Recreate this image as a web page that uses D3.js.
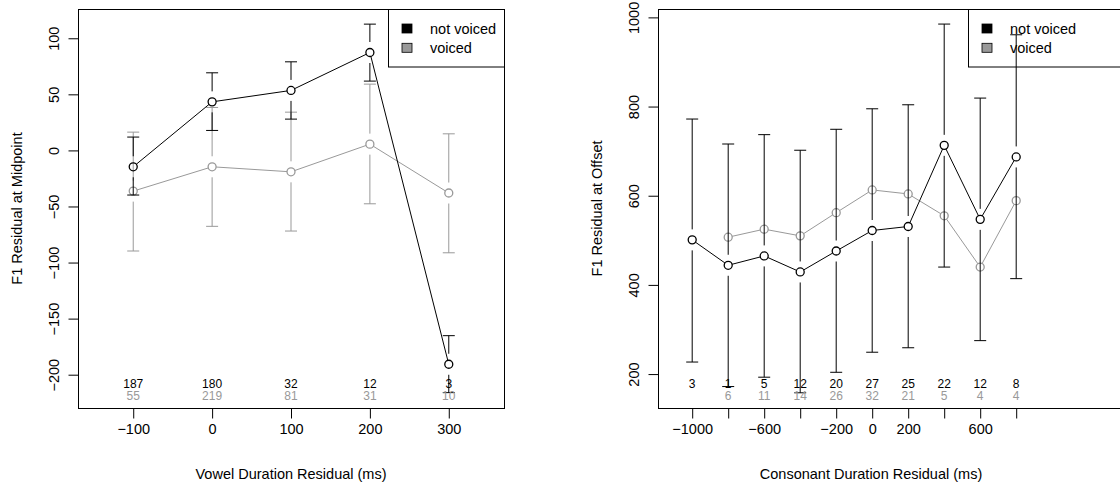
<!DOCTYPE html>
<html>
<head>
<meta charset="utf-8">
<script src="https://cdn.jsdelivr.net/npm/d3@7"></script>
<style>
  html, body { margin: 0; padding: 0; background: #fff; }
  svg { display: block; font-family: "Liberation Sans", Arial, Helvetica, sans-serif; }
</style>
</head>
<body>
<svg id="chart" width="1120" height="489"></svg>
<script>
// ---- F1 residual at vowel midpoint, by vowel duration residual ----
const vowelDur = [-100, 0, 100, 200, 300];
const midNotVoicedMean = [-14.6, 43.3, 53.5, 87.3, -190.7];
const midNotVoicedHi   = [11.9, 69.2, 79.0, 112.6, -165.2];
const midNotVoicedLo   = [-39.8, 17.8, 27.9, 61.8, -216.0];
const midVoicedMean    = [-36.3, -14.6, -19.1, 5.6, -38.0];
const midVoicedHi      = [16.3, 38.3, 34.1, 59.1, 14.8];
const midVoicedLo      = [-89.7, -67.7, -71.9, -47.6, -91.3];
const midNotVoicedN    = [187, 180, 32, 12, 3];
const midVoicedN       = [55, 219, 81, 31, 10];
const vowelTicks       = [-100, 0, 100, 200, 300];
const midYTicks        = [-200, -150, -100, -50, 0, 50, 100];

// ---- F1 residual at vowel offset, by consonant duration residual ----
const consDur = [-1000, -800, -600, -400, -200, 0, 200, 400, 600, 800];
const offNotVoicedMean = [501, 444, 465, 429, 476, 522, 531, 713, 547, 687];
const offNotVoicedHi   = [772, 716, 737, 702, 749, 795, 804, 985, 819, 961];
const offNotVoicedLo   = [227, 172, 193, 158, 204, 249, 259, 440, 275, 414];
const offVoicedMean    = [null, 507, 525, 510, 562, 613, 604, 555, 440, 589];
const offNotVoicedN    = [3, 1, 5, 12, 20, 27, 25, 22, 12, 8];
const offVoicedN       = [null, 6, 11, 14, 26, 32, 21, 5, 4, 4];
const consTicks        = [-1000, -800, -600, -400, -200, 0, 200, 400, 600, 800];
const consTickLabels   = [-1000, -600, -200, 0, 200, 600];
const offYTicks        = [200, 400, 600, 800, 1000];

const legendLabels = ["not voiced", "voiced"];

const BLACK = "#000000";
const GREY = "#999999";
const FONT = 14.5;
const plain = d3.format("");

const svg = d3.select("#chart");

function drawPanel(opt) {
  const g = svg.append("g");
  const x = d3.scaleLinear().domain(opt.xDomain).range([opt.left, opt.right]);
  const y = d3.scaleLinear().domain(opt.yDomain).range([opt.bottom, opt.top]);

  const clipId = opt.id + "-clip";
  g.append("clipPath").attr("id", clipId).append("rect")
    .attr("x", opt.left).attr("y", opt.top)
    .attr("width", opt.right - opt.left).attr("height", opt.bottom - opt.top);

  // x axis
  const xAxis = g.append("g")
    .attr("transform", `translate(0,${opt.bottom + 0.5})`)
    .call(d3.axisBottom(x).tickValues(opt.xTicks).tickSize(10).tickSizeOuter(0)
      .tickFormat(d => opt.xLabels.includes(d) ? plain(d) : ""));
  xAxis.select(".domain").remove();
  xAxis.selectAll(".tick line").attr("stroke", BLACK);
  xAxis.selectAll(".tick text").attr("font-size", FONT).attr("fill", BLACK)
    .attr("dy", null).attr("y", 25);

  // y axis, labels rotated parallel to the axis
  const yAxis = g.append("g")
    .attr("transform", `translate(${opt.left + 0.5},0)`)
    .call(d3.axisLeft(y).tickValues(opt.yTicks).tickSize(10).tickSizeOuter(0).tickFormat(plain));
  yAxis.select(".domain").remove();
  yAxis.selectAll(".tick line").attr("stroke", BLACK);
  yAxis.selectAll(".tick text")
    .attr("font-size", FONT).attr("fill", BLACK)
    .attr("x", null).attr("dy", null)
    .attr("text-anchor", "middle")
    .attr("transform", "translate(-20,0) rotate(-90)");
  svg.selectAll(".tick text").attr("font-family", null);

  // axis titles
  g.append("text")
    .attr("x", opt.titleX).attr("y", 479)
    .attr("text-anchor", "middle").attr("font-size", FONT)
    .text(opt.xTitle);
  g.append("text")
    .attr("transform", `translate(${opt.left - 56},${(opt.top + opt.bottom) / 2}) rotate(-90)`)
    .attr("text-anchor", "middle").attr("font-size", FONT)
    .text(opt.yTitle);

  // legend, drawn beneath the data
  const lg = g.append("g");
  lg.append("rect")
    .attr("x", opt.legendX + 0.5).attr("y", opt.top + 0.5)
    .attr("width", opt.right - opt.legendX).attr("height", 57.5)
    .attr("fill", "#fff").attr("stroke", BLACK);
  legendLabels.forEach((lab, i) => {
    lg.append("rect")
      .attr("x", opt.legendX + 14).attr("y", opt.top + 15 + i * 19.3)
      .attr("width", 10).attr("height", 9)
      .attr("fill", i === 0 ? BLACK : GREY).attr("stroke", BLACK).attr("stroke-width", 0.8);
    lg.append("text")
      .attr("x", opt.legendX + 42).attr("y", opt.top + 24.5 + i * 19.3)
      .attr("font-size", FONT).text(lab);
  });

  const data = g.append("g").attr("clip-path", `url(#${clipId})`);
  const R = 4;      // point radius
  const GAP = 10.5; // gap left around each point by the error bars
  const CAP = 6;    // half width of bar caps

  function series(xs, mean, lo, hi, colour, lw) {
    const pts = xs.map((xv, i) => ({ x: xv, m: mean[i], lo: lo ? lo[i] : null, hi: hi ? hi[i] : null }))
      .filter(d => d.m != null);
    // error bars
    if (lo && hi) {
      pts.forEach(d => {
        const px = x(d.x), pm = y(d.m), ph = y(d.hi), pl = y(d.lo);
        if (pm - GAP > ph) data.append("line").attr("x1", px).attr("x2", px)
          .attr("y1", pm - GAP).attr("y2", ph).attr("stroke", colour).attr("stroke-width", 1);
        if (pm + GAP < pl) data.append("line").attr("x1", px).attr("x2", px)
          .attr("y1", pm + GAP).attr("y2", pl).attr("stroke", colour).attr("stroke-width", 1);
        [ph, pl].forEach(py => data.append("line")
          .attr("x1", px - CAP).attr("x2", px + CAP).attr("y1", py).attr("y2", py)
          .attr("stroke", colour).attr("stroke-width", 1));
      });
    }
    // connecting segments stopping at the point circles
    for (let i = 0; i + 1 < pts.length; i++) {
      const x1 = x(pts[i].x), y1 = y(pts[i].m), x2 = x(pts[i + 1].x), y2 = y(pts[i + 1].m);
      const len = Math.hypot(x2 - x1, y2 - y1);
      if (len <= 2 * R) continue;
      const ux = (x2 - x1) / len, uy = (y2 - y1) / len;
      data.append("line")
        .attr("x1", x1 + ux * R).attr("y1", y1 + uy * R)
        .attr("x2", x2 - ux * R).attr("y2", y2 - uy * R)
        .attr("stroke", colour).attr("stroke-width", lw);
    }
    data.selectAll(null).data(pts).enter().append("circle")
      .attr("cx", d => x(d.x)).attr("cy", d => y(d.m)).attr("r", R)
      .attr("fill", "none").attr("stroke", colour).attr("stroke-width", 1.3);
  }

  series(opt.xs, opt.vMean, opt.vLo, opt.vHi, GREY, 1);
  series(opt.xs, opt.nMean, opt.nLo, opt.nHi, BLACK, 1);

  // sample sizes along the bottom of the panel
  const counts = g.append("g").attr("font-size", 12).attr("text-anchor", "middle");
  opt.xs.forEach((xv, i) => {
    if (opt.nN[i] != null) counts.append("text").attr("x", x(xv)).attr("y", opt.bottom - 20)
      .attr("fill", BLACK).text(opt.nN[i]);
    if (opt.vN[i] != null) counts.append("text").attr("x", x(xv)).attr("y", opt.bottom - 8)
      .attr("fill", GREY).text(opt.vN[i]);
  });

  // plot frame
  g.append("rect")
    .attr("x", opt.left + 0.5).attr("y", opt.top + 0.5)
    .attr("width", opt.right - opt.left).attr("height", opt.bottom - opt.top)
    .attr("fill", "none").attr("stroke", BLACK);
}

drawPanel({
  id: "mid",
  left: 78, right: 504, top: 9, bottom: 408,
  xDomain: [-170, 370], yDomain: [-229.7, 126.1],
  xTicks: vowelTicks, xLabels: vowelTicks, yTicks: midYTicks,
  xs: vowelDur,
  nMean: midNotVoicedMean, nLo: midNotVoicedLo, nHi: midNotVoicedHi,
  vMean: midVoicedMean, vLo: midVoicedLo, vHi: midVoicedHi,
  nN: midNotVoicedN, vN: midVoicedN,
  xTitle: "Vowel Duration Residual (ms)", titleX: 291,
  yTitle: "F1 Residual at Midpoint",
  legendX: 388
});

drawPanel({
  id: "off",
  left: 658, right: 1135, top: 9, bottom: 408,
  xDomain: [-1190, 1460], yDomain: [123.9, 1018.8],
  xTicks: consTicks, xLabels: consTickLabels, yTicks: offYTicks,
  xs: consDur,
  nMean: offNotVoicedMean, nLo: offNotVoicedLo, nHi: offNotVoicedHi,
  vMean: offVoicedMean, vLo: null, vHi: null,
  nN: offNotVoicedN, vN: offVoicedN,
  xTitle: "Consonant Duration Residual (ms)", titleX: 871,
  yTitle: "F1 Residual at Offset",
  legendX: 968
});
</script>
</body>
</html>
